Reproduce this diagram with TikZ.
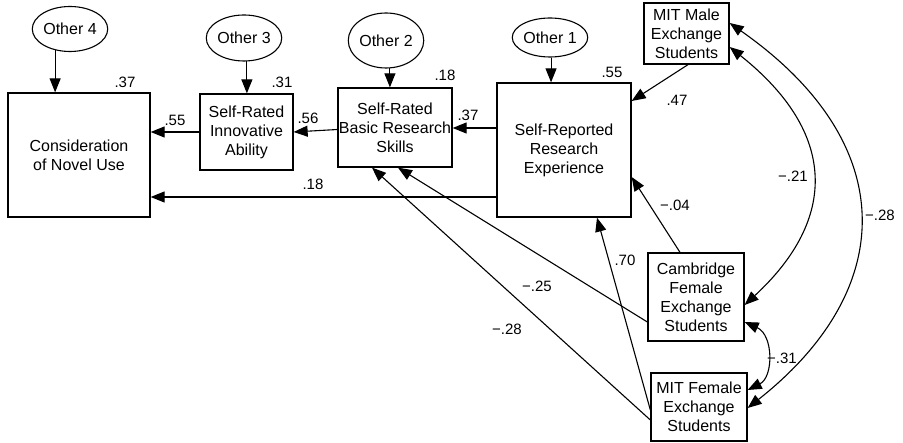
\documentclass[tikz,border=0pt]{standalone}
\usepackage{fontspec}
\setmainfont{Liberation Sans}
\usetikzlibrary{arrows.meta,calc,shapes.geometric}
\begin{document}
\begin{tikzpicture}[x=1pt,y=-1pt,
  box/.style={draw, line width=1.3pt, align=center, inner sep=0pt, font=\fontsize{16}{19}\selectfont},
  oth/.style={draw, ellipse, line width=1.1pt, inner sep=0pt, font=\fontsize{16}{19}\selectfont},
  arr/.style={-{Triangle[length=14pt,width=11pt]}, line width=1.1pt},
  dbl/.style={{Triangle[length=14pt,width=11pt]}-{Triangle[length=14pt,width=11pt]}, line width=1.1pt},
  lab/.style={font=\fontsize{15}{17}\selectfont, inner sep=1pt}]
\useasboundingbox (0,0) rectangle (903,443);
% boxes
\node[box, minimum width=142pt, minimum height=124pt] (cons) at (79,155) {Consideration\\of Novel Use};
\node[box, minimum width=93pt, minimum height=76pt] (inno) at (246.5,132) {Self-Rated\\Innovative\\Ability};
\node[box, minimum width=114pt, minimum height=79pt] (basic) at (395,127.5) {Self-Rated\\Basic Research\\Skills};
\node[box, minimum width=134pt, minimum height=134pt] (rep) at (564,150) {Self-Reported\\Research\\Experience};
\node[box, minimum width=85pt, minimum height=61pt] (male) at (686.5,33.5) {MIT Male\\Exchange\\Students};
\node[box, minimum width=96pt, minimum height=88pt] (camb) at (696,297) {Cambridge\\Female\\Exchange\\Students};
\node[box, minimum width=96pt, minimum height=68pt] (fem) at (699,407) {MIT Female\\Exchange\\Students};
% ellipses
\node[oth, minimum width=67pt, minimum height=45pt] (o4) at (70,29) {Other 4};
\node[oth, minimum width=70pt, minimum height=46pt] (o3) at (244,38) {Other 3};
\node[oth, minimum width=64pt, minimum height=55pt] (o2) at (386,40.5) {Other 2};
\node[oth, minimum width=74pt, minimum height=39pt] (o1) at (550,37.5) {Other 1};
% error arrows
\draw[arr] (o4.235) -- (o4.235 |- cons.north);
\draw[arr] (o3.277) -- (o3.277 |- inno.north);
\draw[arr] (o2.278) -- (o2.278 |- basic.north);
\draw[arr] (o1.273) -- (o1.273 |- rep.north);
% paths
\draw[arr] (inno.west) -- (inno.west -| cons.east);
\draw[arr] ([yshift=-2pt]basic.west) -- (inno.east);
\draw[arr] ([yshift=22pt]rep.west) -- ([yshift=22pt]rep.west -| basic.east);
\draw[arr] ([yshift=-47pt]rep.west) -- ([yshift=-47pt]rep.west -| cons.east);
\draw[arr] ([xshift=1.5pt]male.south) -- ([yshift=49pt]rep.east);
\draw[arr] ([xshift=-16pt]camb.north) -- ([yshift=-27pt]rep.east);
\draw[arr] ([yshift=-3pt]fem.west) -- ([xshift=33pt]rep.south);
\draw[arr] ([yshift=-25pt]camb.west) -- ([xshift=3pt]basic.south);
\draw[arr] ([yshift=-13pt]fem.west) -- ([xshift=-23pt]basic.south);
% correlations
\draw[dbl] ([yshift=10.5pt]male.east) .. controls +(170,119) and +(152,-120) .. ([yshift=-1pt]fem.east);
\draw[dbl] ([yshift=-13.5pt]male.east) .. controls +(108,86) and +(93,-86) .. ([yshift=-8pt]camb.east);
\draw[dbl] ([yshift=-25pt]camb.east) .. controls +(29,13) and +(26,-13) .. ([yshift=17pt]fem.east);
% labels
\node[lab] (r4) at (125,82) {.37};
\node[lab] (r3) at (282,82) {.31};
\node[lab] (r2) at (445,75) {.18};
\node[lab] (r1) at (612,72) {.55};
\node[lab] (p1) at (175,120) {.55};
\node[lab] (p2) at (308,118) {.56};
\node[lab] (p3) at (468,115) {.37};
\node[lab] (p4) at (313,184) {.18};
\node[lab] (p5) at (677,100) {.47};
\node[lab] (p6) at (675,205) {−.04};
\node[lab] (p7) at (625,260) {.70};
\node[lab] (p8) at (537,286) {−.25};
\node[lab] (p9) at (507,329) {−.28};
\node[lab] (c1) at (793,176) {−.21};
\node[lab] (c2) at (880,215) {−.28};
\node[lab] (c3) at (782,358) {−.31};
\end{tikzpicture}
\end{document}
